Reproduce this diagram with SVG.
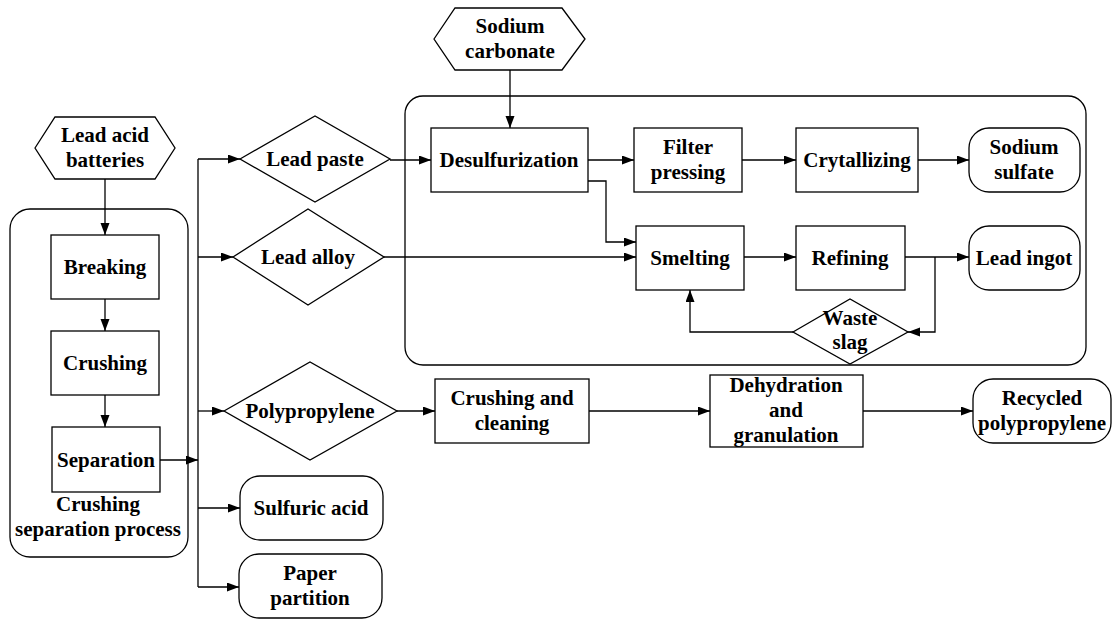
<svg xmlns="http://www.w3.org/2000/svg" width="1112" height="619" viewBox="0 0 1112 619">
<defs>
<marker id="arr" markerUnits="userSpaceOnUse" markerWidth="13" markerHeight="10" refX="12" refY="4.5" orient="auto">
<path d="M0,0 L12,4.5 L0,9 z" fill="#000"/>
</marker>
<style>
.s{fill:#fff;stroke:#000;stroke-width:1.3}
.c{fill:none;stroke:#000;stroke-width:1.3}
.a{marker-end:url(#arr)}
text{font-family:"Liberation Serif","Times New Roman",serif;font-weight:bold;font-size:21px;fill:#000;text-anchor:middle}
</style>
</defs>
<rect width="1112" height="619" fill="#fff"/>

<g id="crushing-separation-process">
<rect class="s" x="10" y="209" width="178" height="348" rx="20"/>
<text x="98" y="511">Crushing</text>
<text x="98" y="536">separation process</text>
</g>
<g id="lead-processing">
<rect class="s" x="405" y="96" width="681" height="269" rx="18"/>
</g>

<g id="connectors">
<path class="c a" d="M105,179 V235"/>
<path class="c a" d="M105,299 V331"/>
<path class="c a" d="M105,395 V427"/>
<path class="c a" d="M160,460 H198"/>
<path class="c" d="M198,159 V587"/>
<path class="c a" d="M198,159 H240"/>
<path class="c a" d="M198,257 H233"/>
<path class="c a" d="M198,411 H224"/>
<path class="c a" d="M198,508 H240"/>
<path class="c a" d="M198,587 H239"/>
<path class="c a" d="M510,70 V128"/>
<path class="c a" d="M390,160 H431"/>
<path class="c a" d="M588,160 H634"/>
<path class="c a" d="M742,160 H796"/>
<path class="c a" d="M918,160 H969"/>
<path class="c a" d="M588,181 H606 V242 H636"/>
<path class="c a" d="M384,257 H636"/>
<path class="c a" d="M744,257 H796"/>
<path class="c a" d="M905,257 H969"/>
<path class="c a" d="M935,257 V332 H908"/>
<path class="c a" d="M793,332 H690 V290"/>
<path class="c a" d="M397,411 H435"/>
<path class="c a" d="M589,411 H710"/>
<path class="c a" d="M863,411 H973"/>
</g>

<g id="lead-acid-batteries">
<polygon class="s" points="35,148 55,117 155,117 175,148 155,179 55,179"/>
<text x="105" y="142">Lead acid</text>
<text x="105" y="167">batteries</text>
</g>
<g id="breaking">
<rect class="s" x="51" y="235" width="108" height="64"/>
<text x="105" y="274">Breaking</text>
</g>
<g id="crushing">
<rect class="s" x="51" y="331" width="108" height="64"/>
<text x="105" y="370">Crushing</text>
</g>
<g id="separation">
<rect class="s" x="52" y="427" width="108" height="65"/>
<text x="106" y="467">Separation</text>
</g>

<g id="lead-paste">
<polygon class="s" points="240,159 315,116 390,159 315,202"/>
<text x="315" y="166">Lead paste</text>
</g>
<g id="lead-alloy">
<polygon class="s" points="233,257 308,209 384,257 308,305"/>
<text x="308" y="264">Lead alloy</text>
</g>
<g id="polypropylene">
<polygon class="s" points="224,411 310,362 397,411 310,460"/>
<text x="310" y="418">Polypropylene</text>
</g>
<g id="sulfuric-acid">
<rect class="s" x="240" y="476" width="143" height="64" rx="20"/>
<text x="311" y="515">Sulfuric acid</text>
</g>
<g id="paper-partition">
<rect class="s" x="239" y="554" width="143" height="64" rx="20"/>
<text x="310" y="580">Paper</text>
<text x="310" y="605">partition</text>
</g>

<g id="sodium-carbonate">
<polygon class="s" points="434,39 455,8 562,8 585,39 562,70 455,70"/>
<text x="510" y="33">Sodium</text>
<text x="510" y="58">carbonate</text>
</g>
<g id="desulfurization">
<rect class="s" x="431" y="128" width="157" height="64"/>
<text x="509" y="167">Desulfurization</text>
</g>
<g id="filter-pressing">
<rect class="s" x="634" y="128" width="108" height="64"/>
<text x="688" y="154">Filter</text>
<text x="688" y="179">pressing</text>
</g>
<g id="crytallizing">
<rect class="s" x="796" y="128" width="122" height="64"/>
<text x="857" y="167">Crytallizing</text>
</g>
<g id="sodium-sulfate">
<rect class="s" x="969" y="128" width="111" height="64" rx="20"/>
<text x="1024" y="154">Sodium</text>
<text x="1024" y="179">sulfate</text>
</g>
<g id="smelting">
<rect class="s" x="636" y="226" width="108" height="64"/>
<text x="690" y="265">Smelting</text>
</g>
<g id="refining">
<rect class="s" x="796" y="226" width="109" height="64"/>
<text x="850" y="265">Refining</text>
</g>
<g id="lead-ingot">
<rect class="s" x="969" y="226" width="111" height="64" rx="20"/>
<text x="1024" y="265">Lead ingot</text>
</g>
<g id="waste-slag">
<polygon class="s" points="793,332 850,299 908,332 850,364"/>
<text x="850" y="325">Waste</text>
<text x="850" y="349">slag</text>
</g>

<g id="crushing-and-cleaning">
<rect class="s" x="435" y="379" width="154" height="64"/>
<text x="512" y="405">Crushing and</text>
<text x="512" y="430">cleaning</text>
</g>
<g id="dehydration-and-granulation">
<rect class="s" x="710" y="375" width="153" height="72"/>
<text x="786" y="392">Dehydration</text>
<text x="786" y="417">and</text>
<text x="786" y="442">granulation</text>
</g>
<g id="recycled-polypropylene">
<rect class="s" x="973" y="379" width="138" height="64" rx="20"/>
<text x="1042" y="405">Recycled</text>
<text x="1042" y="430">polypropylene</text>
</g>
</svg>
